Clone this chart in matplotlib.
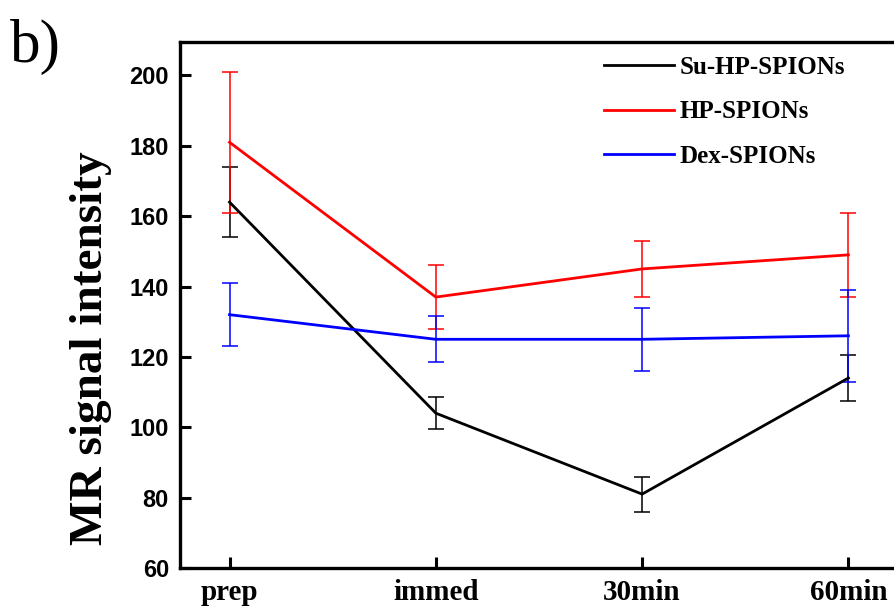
import matplotlib
matplotlib.use("Agg")
import matplotlib.pyplot as plt
from matplotlib.lines import Line2D

# data
categories = ["prep", "immed", "30min", "60min"]
su_hp = [164, 104, 81, 114]
su_hp_err = [10, 4.5, 5, 6.5]
hp = [181, 137, 145, 149]
hp_err = [20, 9, 8, 12]
dex = [132, 125, 125, 126]
dex_err = [9, 6.5, 9, 13]
yticks = [60, 80, 100, 120, 140, 160, 180, 200]

SERIF = "Liberation Serif"
SANS = "Liberation Sans"

fig = plt.figure(figsize=(8.95, 6.10), dpi=100)
# axes runs slightly past the right edge, as in the cropped original
ax = fig.add_axes([180 / 895, 42 / 610, 720 / 895, 526 / 610])

x = list(range(len(categories)))
series = [
    (su_hp, su_hp_err, "black", "Su-HP-SPIONs"),
    (hp, hp_err, "#ff0000", "HP-SPIONs"),
    (dex, dex_err, "#0000ff", "Dex-SPIONs"),
]
handles = []
for vals, errs, color, label in series:
    ax.errorbar(x, vals, yerr=errs, color=color, lw=2.0, elinewidth=1.1,
                capsize=6, capthick=1.1)
    handles.append(Line2D([], [], color=color, lw=2.0, label=label))

ax.set_xlim(-0.24, 3.25)
ax.set_ylim(60, 209.5)
ax.set_xticks(x)
ax.set_xticklabels(categories, fontfamily=SERIF, fontweight="bold", fontsize=21)
ax.set_yticks(yticks)
ax.set_yticklabels([str(v) for v in yticks], fontfamily=SANS, fontweight="bold", fontsize=17)
ax.tick_params(direction="in", length=8, width=2.2, pad=8)
for s in ax.spines.values():
    s.set_linewidth(2.4)

ax.set_ylabel("MR signal intensity", fontfamily=SERIF, fontweight="bold", fontsize=34)
ax.yaxis.set_label_coords(-0.094, 0.418)

leg = ax.legend(handles=handles, loc="upper left",
                bbox_to_anchor=(581 / 895, 1 - 33 / 610),
                bbox_transform=fig.transFigure, frameon=False,
                prop={"family": SERIF, "weight": "bold", "size": 18},
                handlelength=2.8, handletextpad=0.25, labelspacing=0.87)

fig.text(10 / 895, 1 - 62 / 610, "b)", fontfamily=SERIF, fontsize=44)

fig.savefig("out.png", dpi=100)
